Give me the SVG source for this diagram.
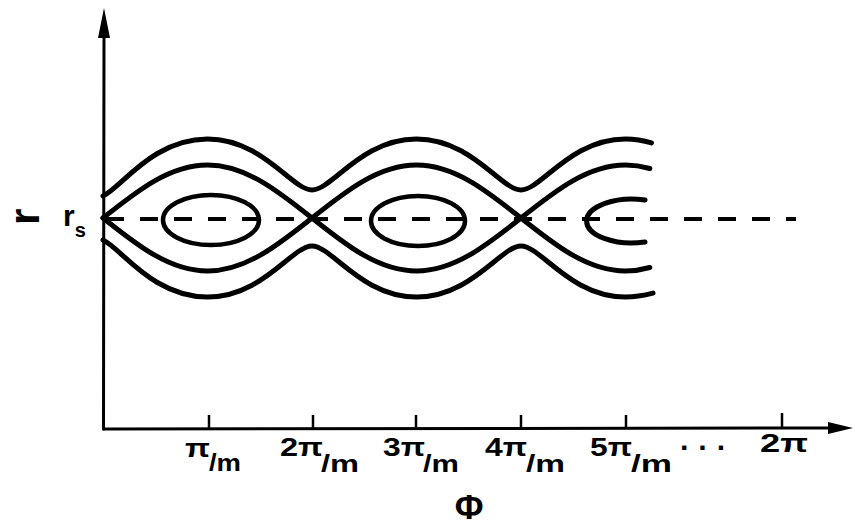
<svg xmlns="http://www.w3.org/2000/svg" width="855" height="530" viewBox="0 0 855 530">
<style>
.ax{stroke:#000;stroke-width:3;fill:none;stroke-linecap:round}
.tk{stroke:#000;stroke-width:2.5;fill:none}
.cv{stroke:#000;stroke-width:5;fill:none;stroke-linecap:round;stroke-linejoin:round}
.el{stroke:#000;stroke-width:4.5;fill:none}
.dash{stroke:#000;stroke-width:4;fill:none;stroke-dasharray:18 16}
.lb{font-family:"Liberation Sans",Arial,sans-serif;font-weight:bold;fill:#000}
.mn{font-size:26px}
.sb{font-size:23px}
</style>
<rect width="855" height="530" fill="#fff"/>
<g id="axes">
<line class="ax" x1="103.5" y1="429" x2="104" y2="30"/>
<polygon points="104,8 98,38 110,38" fill="#000"/>
<line class="ax" x1="103.5" y1="429" x2="832" y2="428"/>
<polygon points="853,428 828,422 828,434" fill="#000"/>
<line class="tk" x1="209" y1="429" x2="209" y2="415"/>
<line class="tk" x1="313" y1="429" x2="313" y2="415"/>
<line class="tk" x1="416" y1="429" x2="416" y2="415"/>
<line class="tk" x1="521" y1="429" x2="521" y2="415"/>
<line class="tk" x1="626" y1="429" x2="626" y2="415"/>
<line class="tk" x1="782" y1="429" x2="782" y2="413"/>
</g>
<g id="reference-line">
<line class="dash" x1="106" y1="219" x2="796" y2="219"/>
</g>
<g id="orbits">
<path class="cv" d="M103,218 C137.07,190.85 169.65,165 207.5,165 C245.35,165 277.93,190.85 312,218 C346.07,190.85 378.65,165 416.5,165 C454.35,165 486.93,190.85 521,218 C555.07,190.85 587.65,165 625.5,165 C633.83,165 641.9,166.25 649.8,168.5"/>
<path class="cv" d="M103,218 C137.07,245.15 169.65,271 207.5,271 C245.35,271 277.93,245.15 312,218 C346.07,245.15 378.65,271 416.5,271 C454.35,271 486.93,245.15 521,218 C555.07,245.15 587.65,271 625.5,271 C633.83,271 641.9,269.75 649.8,267.5"/>
<path class="cv" d="M103,196 C121,188 152.5,139 207.5,139 C262.5,139 292,190 312,190 C332,190 361.5,139 416.5,139 C471.5,139 501,190 521,190 C541,190 570.5,139 625.5,139 C634.85,139 643.46,140.47 651.4,142.9"/>
<path class="cv" d="M103,240 C121,248 152.5,297 207.5,297 C262.5,297 292,246 312,246 C332,246 361.5,297 416.5,297 C471.5,297 501,246 521,246 C541,246 570.5,297 625.5,297 C634.85,297 643.46,295.53 653,293.1"/>
<ellipse class="el" cx="211" cy="220" rx="48" ry="25"/>
<ellipse class="el" cx="418" cy="221" rx="47" ry="25"/>
<path class="cv" d="M645,200 A45,22 0 1,0 645,242"/>
</g>
<g id="labels">
<text class="lb" font-size="42" transform="translate(39,225) rotate(-90)">r</text>
<text class="lb" x="63" y="226" font-size="30">r<tspan font-size="20" dy="11">s</tspan></text>
<text class="lb mn" x="185" y="457" textLength="25" lengthAdjust="spacingAndGlyphs">π</text>
<text class="lb sb" x="209" y="471" textLength="32" lengthAdjust="spacingAndGlyphs">/m</text>
<text class="lb mn" x="280" y="456" textLength="43" lengthAdjust="spacingAndGlyphs">2π</text>
<text class="lb sb" x="321" y="472" textLength="38" lengthAdjust="spacingAndGlyphs">/m</text>
<text class="lb mn" x="383" y="456" textLength="42" lengthAdjust="spacingAndGlyphs">3π</text>
<text class="lb sb" x="423" y="472" textLength="36" lengthAdjust="spacingAndGlyphs">/m</text>
<text class="lb mn" x="485" y="456" textLength="42" lengthAdjust="spacingAndGlyphs">4π</text>
<text class="lb sb" x="526" y="472" textLength="39" lengthAdjust="spacingAndGlyphs">/m</text>
<text class="lb mn" x="590" y="456" textLength="42" lengthAdjust="spacingAndGlyphs">5π</text>
<text class="lb sb" x="631" y="472" textLength="41" lengthAdjust="spacingAndGlyphs">/m</text>
<text class="lb" x="680" y="458" font-size="30">· · ·</text>
<text class="lb mn" x="760" y="452" textLength="48" lengthAdjust="spacingAndGlyphs">2π</text>
<text class="lb" x="469" y="519" font-size="35" text-anchor="middle">Φ</text>
</g>
</svg>
